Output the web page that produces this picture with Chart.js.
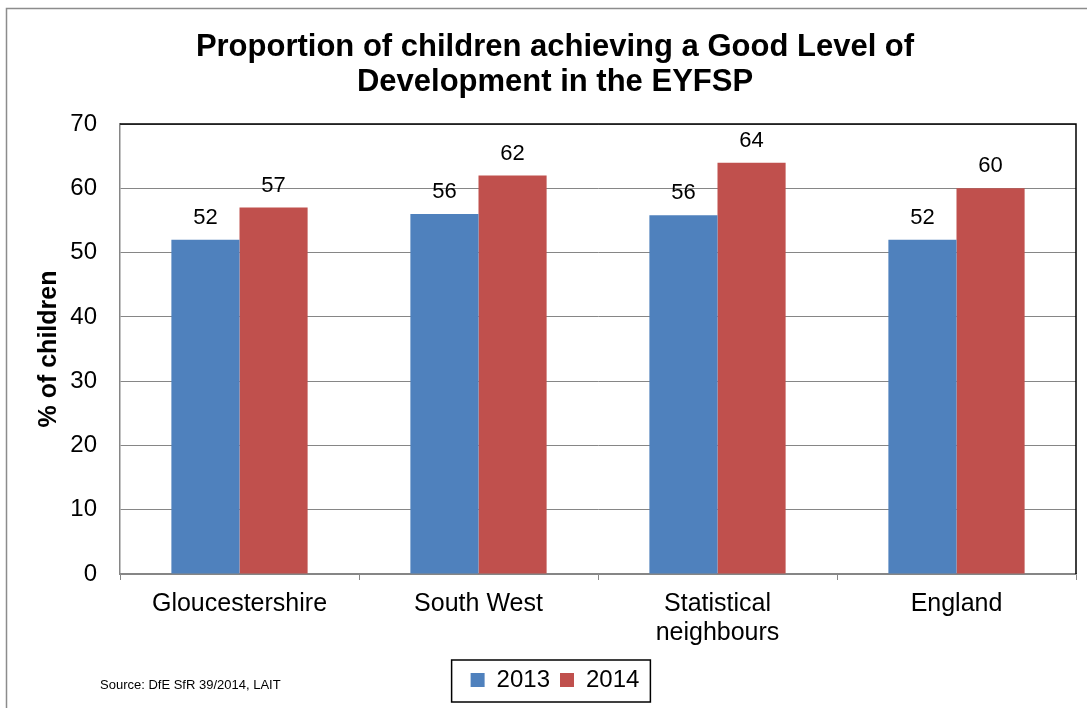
<!DOCTYPE html>
<html>
<head>
<meta charset="utf-8">
<script src="https://cdn.jsdelivr.net/npm/chart.js@4.4.0/dist/chart.umd.min.js"></script>
<style>
  html, body { margin: 0; padding: 0; background: #fff; }
  canvas { display: block; }
</style>
</head>
<body>
<canvas id="chart" width="1087" height="708"></canvas>
<script>
const categories = ['Gloucestershire', 'South West', ['Statistical', 'neighbours'], 'England'];
const values2013 = [52, 56, 55.8, 52];
const values2014 = [57, 62, 64, 60];
const yTicks = [0, 10, 20, 30, 40, 50, 60, 70];
const sourceText = 'Source: DfE SfR 39/2014, LAIT';

const FONT = '"Liberation Sans", Arial, sans-serif';

// frame, plot border, data labels, source note and legend box
const decorations = {
  id: 'decorations',
  beforeDraw(chart) {
    const ctx = chart.ctx;
    ctx.save();
    ctx.fillStyle = '#fff';
    ctx.fillRect(0, 0, chart.width, chart.height);
    ctx.strokeStyle = '#8c8c8c';
    ctx.lineWidth = 1.5;
    ctx.beginPath();
    ctx.moveTo(6.5, chart.height);
    ctx.lineTo(6.5, 8.5);
    ctx.lineTo(chart.width, 8.5);
    ctx.stroke();
    ctx.restore();
  },
  afterDraw(chart) {
    const ctx = chart.ctx;
    const area = chart.chartArea;
    ctx.save();
    ctx.strokeStyle = '#000';
    ctx.lineWidth = 1.5;
    ctx.beginPath();
    ctx.moveTo(area.left, area.top);
    ctx.lineTo(area.right, area.top);
    ctx.lineTo(area.right, area.bottom);
    ctx.stroke();

    ctx.fillStyle = '#000';
    ctx.font = '22px ' + FONT;
    ctx.textAlign = 'center';
    ctx.textBaseline = 'bottom';
    chart.data.datasets.forEach((ds, i) => {
      chart.getDatasetMeta(i).data.forEach((bar, j) => {
        ctx.fillText(String(Math.round(ds.data[j])), bar.x, bar.y - 11);
      });
    });

    ctx.font = '13px ' + FONT;
    ctx.textAlign = 'left';
    ctx.textBaseline = 'middle';
    ctx.fillText(sourceText, 100, 685);

    const boxes = chart.legend.legendHitBoxes;
    if (boxes && boxes.length) {
      const first = boxes[0];
      const last = boxes[boxes.length - 1];
      ctx.strokeStyle = '#000';
      ctx.lineWidth = 1.5;
      ctx.strokeRect(first.left - 19, 660, last.left + last.width - first.left + 30, 42);
    }
    ctx.restore();
  }
};

new Chart(document.getElementById('chart'), {
  type: 'bar',
  data: {
    labels: categories,
    datasets: [
      { label: '2013', data: values2013, backgroundColor: '#4F81BD' },
      { label: '2014', data: values2014, backgroundColor: '#C0504D' }
    ]
  },
  options: {
    responsive: false,
    animation: false,
    devicePixelRatio: 1,
    layout: { padding: { left: 34, right: 11, top: 0, bottom: 6 } },
    datasets: { bar: { categoryPercentage: 0.57, barPercentage: 1 } },
    plugins: {
      title: {
        display: true,
        text: ['Proportion of children achieving a Good Level of', 'Development in the EYFSP'],
        color: '#000',
        font: { family: FONT, size: 31, weight: 'bold', lineHeight: 1.13 },
        padding: { top: 30, bottom: 24 }
      },
      legend: {
        position: 'bottom',
        labels: {
          color: '#000',
          font: { family: FONT, size: 24 },
          boxWidth: 14,
          boxHeight: 14,
          padding: 10
        }
      },
      tooltip: { enabled: false }
    },
    scales: {
      x: {
        grid: { drawOnChartArea: false, drawTicks: true, tickLength: 6, color: '#868686', offset: true },
        border: { color: '#868686', width: 1.5 },
        ticks: { color: '#000', font: { family: FONT, size: 25, lineHeight: 1.16 }, padding: 10, maxRotation: 0 },
        afterFit(scale) { scale.height = 84; }
      },
      y: {
        min: 0,
        max: 70,
        afterBuildTicks(scale) { scale.ticks = yTicks.map((v) => ({ value: v })); },
        grid: { color: '#868686', lineWidth: 1, drawTicks: false },
        border: { color: '#868686', width: 1.5 },
        ticks: { color: '#000', font: { family: FONT, size: 24 }, padding: 23 },
        title: {
          display: true,
          text: '% of children',
          color: '#000',
          font: { family: FONT, size: 25, weight: 'bold' },
          padding: 0
        },
        afterFit(scale) { scale.width = 86; }
      }
    }
  },
  plugins: [decorations]
});
</script>
</body>
</html>
